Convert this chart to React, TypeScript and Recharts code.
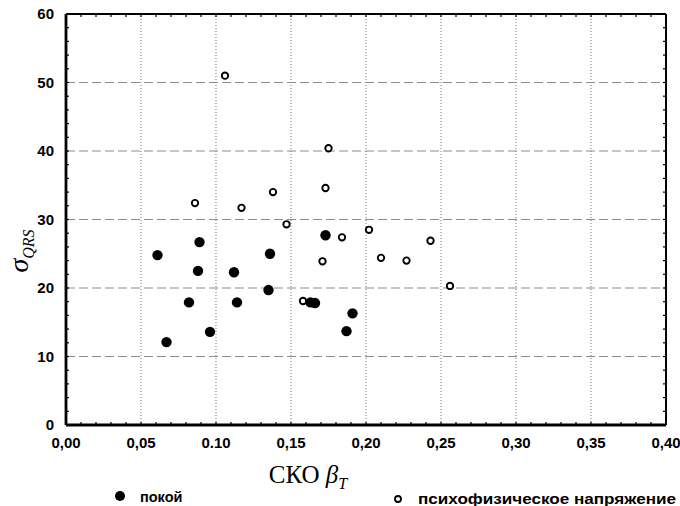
import { ScatterChart, Scatter, XAxis, YAxis, CartesianGrid, ReferenceLine } from 'recharts';

// axis ticks
const xMajorTicks = [0, 0.05, 0.1, 0.15, 0.2, 0.25, 0.3, 0.35, 0.4];
const xTickLabels = ['0,00', '0,05', '0.10', '0,15', '0,20', '0,25', '0,30', '0,35', '0,40'];
const xMinorTicks = [
  0, 0.01, 0.02, 0.03, 0.04, 0.05, 0.06, 0.07, 0.08, 0.09, 0.1, 0.11, 0.12, 0.13, 0.14, 0.15, 0.16,
  0.17, 0.18, 0.19, 0.2, 0.21, 0.22, 0.23, 0.24, 0.25, 0.26, 0.27, 0.28, 0.29, 0.3, 0.31, 0.32, 0.33,
  0.34, 0.35, 0.36, 0.37, 0.38, 0.39, 0.4,
];
const yMajorTicks = [0, 10, 20, 30, 40, 50, 60];
const yTickLabels = ['0', '10', '20', '30', '40', '50', '60'];
const yMinorTicks = [
  0, 2, 4, 6, 8, 10, 12, 14, 16, 18, 20, 22, 24, 26, 28, 30, 32, 34, 36, 38, 40, 42, 44, 46, 48, 50,
  52, 54, 56, 58, 60,
];

const seriesNames = ['покой', 'психофизическое напряжение'];

// покой
const restX = [0.061, 0.067, 0.082, 0.088, 0.089, 0.096, 0.112, 0.114, 0.135, 0.136, 0.163, 0.166, 0.173, 0.187, 0.191];
const restY = [24.8, 12.1, 17.9, 22.5, 26.7, 13.6, 22.3, 17.9, 19.7, 25.0, 17.9, 17.8, 27.7, 13.7, 16.3];

// психофизическое напряжение
const stressX = [0.106, 0.086, 0.117, 0.138, 0.147, 0.175, 0.173, 0.184, 0.202, 0.243, 0.171, 0.158, 0.21, 0.227, 0.256];
const stressY = [51.0, 32.4, 31.7, 34.0, 29.3, 40.4, 34.6, 27.4, 28.5, 26.9, 23.9, 18.1, 24.4, 24.0, 20.3];

const restData = restX.map((x, i) => ({ x, y: restY[i] }));
const stressData = stressX.map((x, i) => ({ x, y: stressY[i] }));

const fmt = (majors: number[], labels: string[]) => (v: number) => {
  const i = majors.findIndex((m) => Math.abs(m - v) < 1e-9);
  return i >= 0 ? labels[i] : '';
};

const FilledDot = (p: any) => <circle cx={p.cx} cy={p.cy} r={5.2} fill="#000" />;
const OpenDot = (p: any) => (
  <circle cx={p.cx} cy={p.cy} r={3.2} fill="#fff" stroke="#000" strokeWidth={1.9} />
);

const tickFont = { fontFamily: 'Arial, Liberation Sans, sans-serif', fontWeight: 'bold', fontSize: 15, fill: '#000', stroke: 'none' };
const minorTick = { stroke: '#000', strokeWidth: 1.2 };

export default function App() {
  return (
    <div style={{ position: 'absolute', left: 0, top: 0, width: 680, height: 506, background: '#fff' }}>
      <ScatterChart width={680} height={506} margin={{ top: 13, right: 13, bottom: 51, left: 0 }}>
        <CartesianGrid
          vertical={false}
          horizontalValues={yMajorTicks}
          stroke="#8c8c8c"
          strokeWidth={1.2}
          strokeDasharray="9 4"
        />
        {xMajorTicks.slice(1, -1).map((v) => (
          <ReferenceLine key={v} x={v} stroke="#8c8c8c" strokeWidth={1.2} strokeDasharray="1 2" />
        ))}
        <XAxis
          dataKey="x"
          type="number"
          domain={[0, 0.4]}
          ticks={xMinorTicks}
          interval={0}
          tickFormatter={fmt(xMajorTicks, xTickLabels)}
          tick={tickFont}
          tickSize={-3}
          tickMargin={15}
          tickLine={minorTick}
          stroke="#000"
          strokeWidth={2.8}
          height={30}
          allowDataOverflow
        />
        <XAxis
          xAxisId="top"
          dataKey="x"
          orientation="top"
          type="number"
          domain={[0, 0.4]}
          ticks={xMinorTicks}
          interval={0}
          tickFormatter={() => ''}
          tickSize={-3}
          tickLine={minorTick}
          stroke="#000"
          strokeWidth={2}
          height={1}
          allowDataOverflow
        />
        <YAxis
          dataKey="y"
          type="number"
          domain={[0, 60]}
          ticks={yMinorTicks}
          interval={0}
          tickFormatter={fmt(yMajorTicks, yTickLabels)}
          tick={tickFont}
          tickSize={-3}
          tickMargin={15}
          tickLine={minorTick}
          stroke="#000"
          strokeWidth={2.8}
          width={66}
          allowDataOverflow
        />
        <YAxis
          yAxisId="right"
          dataKey="y"
          orientation="right"
          type="number"
          domain={[0, 60]}
          ticks={yMinorTicks}
          interval={0}
          tickFormatter={() => ''}
          tickSize={-3}
          tickLine={minorTick}
          stroke="#000"
          strokeWidth={2}
          width={1}
          allowDataOverflow
        />
        <Scatter name={seriesNames[0]} data={restData} shape={FilledDot} isAnimationActive={false} />
        <Scatter
          name={seriesNames[1]}
          data={stressData}
          xAxisId="top"
          yAxisId="right"
          shape={OpenDot}
          isAnimationActive={false}
        />
      </ScatterChart>

      <svg width={680} height={506} style={{ position: 'absolute', left: 0, top: 0, pointerEvents: 'none' }}>
        {/* y axis title */}
        <text
          transform="translate(28,251) rotate(-90)"
          textAnchor="middle"
          fontFamily="Liberation Serif, Times New Roman, serif"
          fontStyle="italic"
          fill="#000"
        >
          <tspan fontSize={28}>σ</tspan>
          <tspan fontSize={16} dy={6}>QRS</tspan>
        </text>
        {/* x axis title */}
        <text x={308} y={483} textAnchor="middle" fontFamily="Liberation Serif, Times New Roman, serif" fill="#000">
          <tspan fontSize={25}>СКО </tspan>
          <tspan fontSize={25} fontStyle="italic">β</tspan>
          <tspan fontSize={16} fontStyle="italic" dy={6}>T</tspan>
        </text>
        {/* legend */}
        <circle cx={120} cy={496} r={5} fill="#000" />
        <text x={140} y={502} fontFamily="Arial, Liberation Sans, sans-serif" fontWeight="bold" fontSize={14.5} fill="#000">
          {seriesNames[0]}
        </text>
        <circle cx={398} cy={499} r={3} fill="#fff" stroke="#000" strokeWidth={1.8} />
        <text
          x={418}
          y={504}
          fontFamily="Arial, Liberation Sans, sans-serif"
          fontWeight="bold"
          fontSize={15}
          textLength={258}
          lengthAdjust="spacingAndGlyphs"
          fill="#000"
        >
          {seriesNames[1]}
        </text>
      </svg>
    </div>
  );
}
